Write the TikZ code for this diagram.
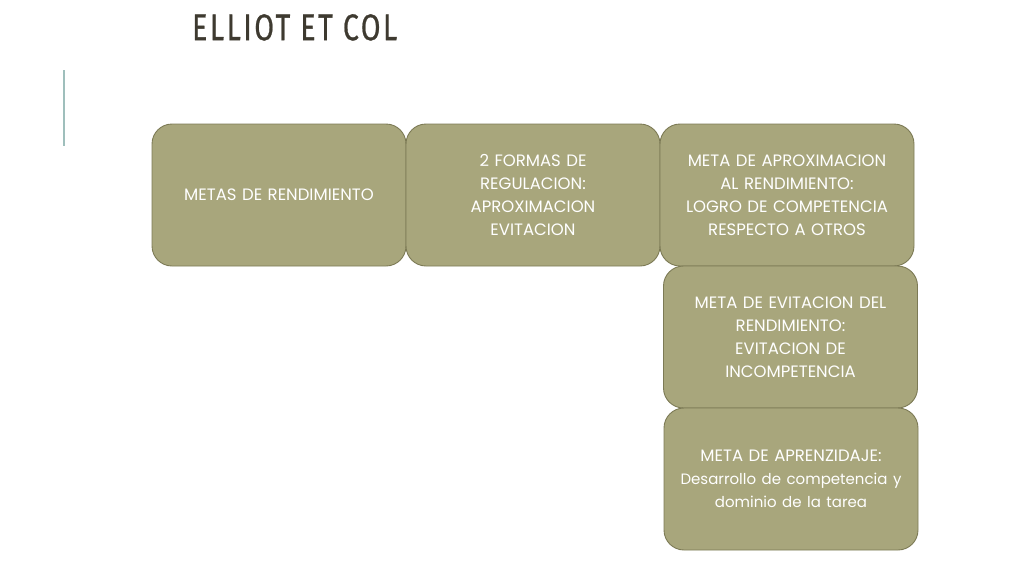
\documentclass[tikz,border=0pt]{standalone}
\usepackage{fontspec}
\usepackage{graphicx}
\setmainfont{Poppins}
\newfontfamily\titlefont[LetterSpace=9,FakeBold=0.8]{Fira Sans}
\definecolor{boxfill}{HTML}{A8A67C}
\definecolor{boxline}{HTML}{7C7A55}
\definecolor{titlecol}{HTML}{3E3A30}
\definecolor{barcol}{HTML}{9FBFBC}
\newcommand{\lowline}[1]{{\fontsize{15}{23}\selectfont #1}}
\tikzset{
  metabox/.style={draw=boxline,line width=0.9pt,fill=boxfill,rounded corners=20pt,
    minimum width=254pt,minimum height=142pt,inner sep=0pt,anchor=center,
    text=white,align=center,font=\fontsize{16.5}{23}\selectfont,text width=250pt}
}
\begin{document}
\begin{tikzpicture}[x=1pt,y=-1pt]
      \useasboundingbox (0,0) rectangle (1024,576);
      \node[anchor=north west,inner sep=0pt,text=titlecol] (title) at (192,14)
        {\resizebox{205pt}{26pt}{\titlefont ELLIOT ET COL}};
      \draw[barcol,line width=2pt] (64,70) -- (64,146);
      \node[metabox] (metas) at (279,195) {METAS DE RENDIMIENTO};
      \node[metabox] (formas) at (533,195) {2 FORMAS DE\\REGULACION:\\APROXIMACION\\EVITACION};
      \node[metabox] (aprox) at (787,195) {META DE APROXIMACION\\AL RENDIMIENTO:\\LOGRO DE COMPETENCIA\\RESPECTO A OTROS};
      \node[metabox] (evit) at (790.5,337) {META DE EVITACION DEL\\RENDIMIENTO:\\EVITACION DE\\INCOMPETENCIA};
      \node[metabox] (aprend) at (791,479) {META DE APRENZIDAJE:\\\lowline{Desarrollo de competencia y}\\\lowline{dominio de la tarea}};
    \end{tikzpicture}
\end{document}
